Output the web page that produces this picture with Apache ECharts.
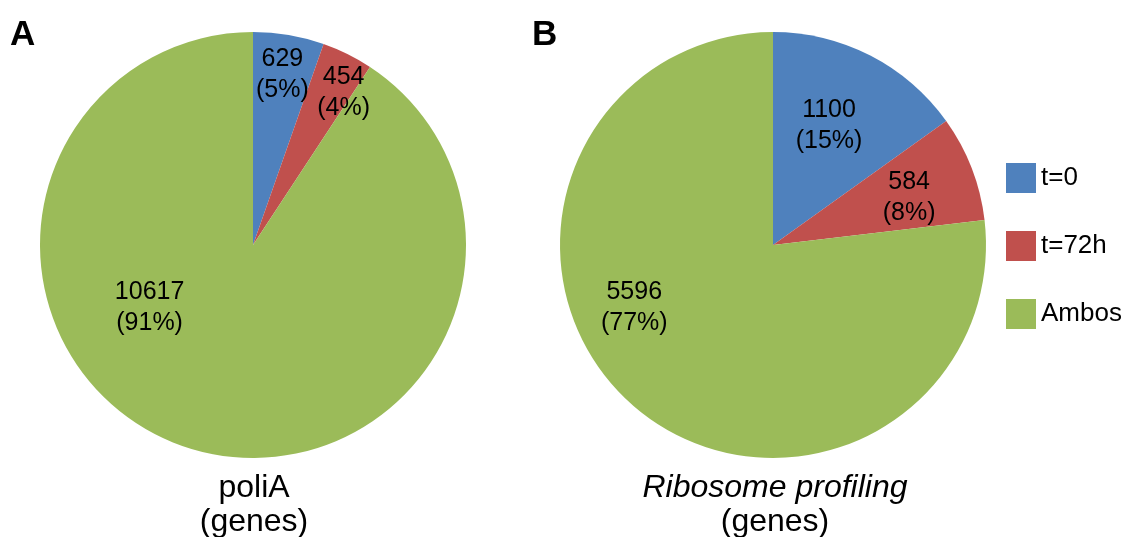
<!DOCTYPE html>
<html><head><meta charset="utf-8">
<script src="https://cdn.jsdelivr.net/npm/echarts@6/dist/echarts.min.js"></script>
<style>html,body{margin:0;padding:0;background:#fff}#c{width:1127px;height:537px}</style>
</head><body><div id="c"></div>
<script>
const categories = ['t=0', 't=72h', 'Ambos'];
const poliAValues = [629, 454, 10617];
const riboValues = [1100, 584, 5596];
const colors = ['#4F81BD', '#C0504D', '#9BBB59'];
// label nudges (px) relative to ECharts default inside position
const labelNudgeA = [[11, -62], [42, -54], [-72, -42]];
const labelNudgeB = [[6, -22], [34, -8], [-66, -19]];
const nudges = [labelNudgeA, labelNudgeB];

const FONT = '"Liberation Sans", Arial, sans-serif';
const chart = echarts.init(document.getElementById('c'), null, {renderer: 'canvas'});

function mk(values) {
  return values.map((v, i) => ({name: categories[i], value: v, itemStyle: {color: colors[i]}}));
}
const pieBase = {
  type: 'pie', radius: 213, startAngle: 90, clockwise: true, percentPrecision: 0,
  animation: false, silent: true,
  itemStyle: {borderWidth: 0},
  label: {show: true, position: 'inside', formatter: '{c}\n({d}%)', color: '#000',
    fontFamily: FONT, fontSize: 25, lineHeight: 31, align: 'center'},
  labelLine: {show: false},
  emphasis: {disabled: true},
  labelLayout: function (p) {
    const n = nudges[p.seriesIndex][p.dataIndex];
    return {dx: n[0], dy: n[1]};
  }
};

chart.setOption({
  backgroundColor: '#fff',
  title: [
    {text: 'A', left: 10, top: 18, padding: 0, textStyle: {fontFamily: FONT, fontWeight: 'bold', fontSize: 35, color: '#000'}},
    {text: 'B', left: 532, top: 18, padding: 0, textStyle: {fontFamily: FONT, fontWeight: 'bold', fontSize: 35, color: '#000'}},
    {text: 'poliA\n(genes)', left: 254, top: 471, padding: 0, textAlign: 'center',
      textStyle: {fontFamily: FONT, fontWeight: 'normal', fontSize: 32, lineHeight: 34, color: '#000'}},
    {text: '{i|Ribosome profiling}\n{n|(genes)}', left: 775, top: 471, padding: 0, textAlign: 'center',
      textStyle: {fontWeight: 'normal', rich: {
        i: {fontFamily: FONT, fontStyle: 'italic', fontWeight: 'normal', fontSize: 32, lineHeight: 34, color: '#000', align: 'center'},
        n: {fontFamily: FONT, fontWeight: 'normal', fontSize: 32, lineHeight: 34, color: '#000', align: 'center'}
      }}}
  ],
  legend: {
    orient: 'vertical', left: 1006, top: 163, padding: 0, itemWidth: 30, itemHeight: 30, itemGap: 38,
    icon: 'rect', data: categories,
    textStyle: {fontFamily: FONT, fontSize: 26, color: '#000'},
    selectedMode: false
  },
  series: [
    Object.assign({}, pieBase, {name: 'poliA', center: [253, 245], data: mk(poliAValues)}),
    Object.assign({}, pieBase, {name: 'Ribosome profiling', center: [773, 245], data: mk(riboValues)})
  ]
});
</script></body></html>
